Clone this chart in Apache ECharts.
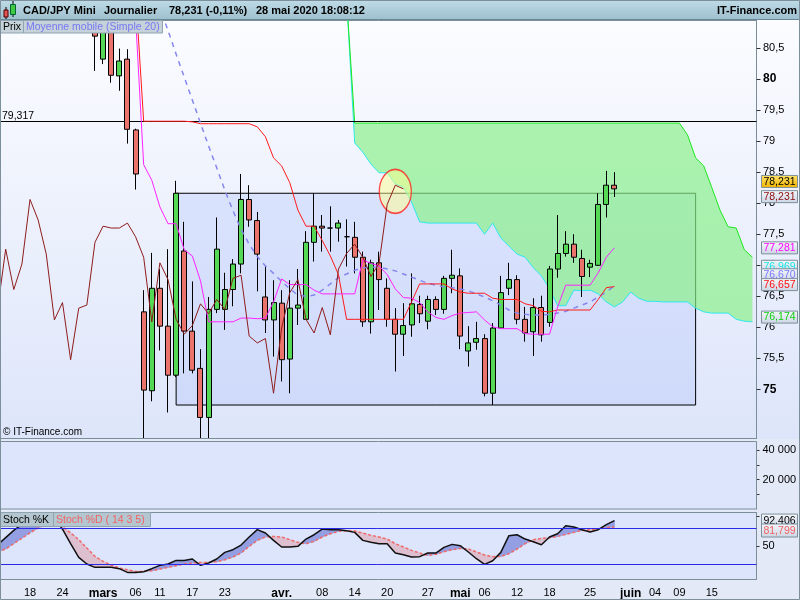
<!DOCTYPE html>
<html><head><meta charset="utf-8">
<script src="https://cdn.jsdelivr.net/npm/echarts@6/dist/echarts.min.js"></script>
<style>html,body{margin:0;padding:0;background:#e3e9f6}#c{width:800px;height:600px}</style>
</head><body><div id="c"></div>
<script>
// ---------- DATA ----------
const dates = ['2020-02-12','2020-02-13','2020-02-14','2020-02-17','2020-02-18','2020-02-19','2020-02-20','2020-02-21','2020-02-24','2020-02-25','2020-02-26','2020-02-27','2020-02-28',
'2020-03-02','2020-03-03','2020-03-04','2020-03-05','2020-03-06','2020-03-09','2020-03-10','2020-03-11','2020-03-12','2020-03-13','2020-03-16','2020-03-17','2020-03-18','2020-03-19','2020-03-20','2020-03-23','2020-03-24','2020-03-25','2020-03-26','2020-03-27','2020-03-30','2020-03-31',
'2020-04-01','2020-04-02','2020-04-03','2020-04-06','2020-04-07','2020-04-08','2020-04-09','2020-04-10','2020-04-13','2020-04-14','2020-04-15','2020-04-16','2020-04-17','2020-04-20','2020-04-21','2020-04-22','2020-04-23','2020-04-24','2020-04-27','2020-04-28','2020-04-29','2020-04-30',
'2020-05-01','2020-05-04','2020-05-05','2020-05-06','2020-05-07','2020-05-08','2020-05-11','2020-05-12','2020-05-13','2020-05-14','2020-05-15','2020-05-18','2020-05-19','2020-05-20','2020-05-21','2020-05-22','2020-05-25','2020-05-26','2020-05-27','2020-05-28','2020-05-29',
'2020-06-01','2020-06-02','2020-06-03','2020-06-04','2020-06-05','2020-06-08','2020-06-09','2020-06-10','2020-06-11','2020-06-12','2020-06-15','2020-06-16','2020-06-17','2020-06-18','2020-06-19','2020-06-22'];

const xTickLabels = [['2020-02-18','18'],['2020-02-24','24'],['2020-03-02','mars'],['2020-03-06','06'],['2020-03-11','11'],['2020-03-17','17'],['2020-03-23','23'],
['2020-04-01','avr.'],['2020-04-08','08'],['2020-04-14','14'],['2020-04-20','20'],['2020-04-27','27'],['2020-05-01','mai'],['2020-05-06','06'],['2020-05-12','12'],
['2020-05-18','18'],['2020-05-25','25'],['2020-06-01','juin'],['2020-06-04','04'],['2020-06-09','09'],['2020-06-15','15']];
const monthNames = ['mars','avr.','mai','juin'];

// date, open, high, low, close
const ohlc = [
['2020-02-28',81.20,81.45,80.13,80.69],['2020-03-02',80.32,81.05,80.24,80.85],['2020-03-03',80.85,81.00,79.94,80.06],['2020-03-04',80.05,80.49,79.81,80.29],
['2020-03-05',80.32,80.48,78.96,79.19],['2020-03-06',79.18,79.20,78.22,78.47],['2020-03-09',76.25,76.60,74.00,74.99],['2020-03-10',74.98,77.20,74.81,76.63],
['2020-03-11',76.63,76.94,75.63,76.02],['2020-03-12',76.02,77.26,74.63,75.23],['2020-03-13',75.23,78.36,75.20,78.16],['2020-03-16',77.23,77.70,75.26,75.94],
['2020-03-17',75.94,76.74,75.26,75.31],['2020-03-18',75.34,75.65,74.10,74.55],['2020-03-19',74.55,76.49,74.15,76.29],['2020-03-20',76.29,77.77,76.23,77.26],
['2020-03-23',76.29,76.88,75.96,76.61],['2020-03-24',76.61,77.10,76.34,77.02],['2020-03-25',77.02,78.47,76.87,78.06],['2020-03-26',78.06,78.29,77.62,77.73],
['2020-03-27',77.72,77.86,76.58,77.18],['2020-03-30',76.49,76.99,75.91,76.12],['2020-03-31',76.12,76.76,75.53,76.40],['2020-04-01',76.39,76.60,75.13,75.48],
['2020-04-02',75.49,76.76,74.94,76.31],['2020-04-03',76.31,76.94,76.04,76.36],['2020-04-06',76.13,77.55,76.13,77.37],['2020-04-07',77.37,78.16,77.06,77.63],
['2020-04-08',77.63,77.81,77.22,77.60],['2020-04-09',77.60,77.95,77.22,77.60],['2020-04-10',77.60,77.73,77.38,77.68],['2020-04-13',77.46,77.74,76.98,77.46],
['2020-04-14',77.45,77.70,76.87,77.13],['2020-04-15',77.13,77.22,76.01,76.09],['2020-04-16',76.09,77.09,75.90,77.04],['2020-04-17',77.04,77.22,76.28,76.77],
['2020-04-20',76.63,76.79,76.01,76.13],['2020-04-21',76.13,76.31,75.29,75.89],['2020-04-22',75.89,76.39,75.54,76.03],['2020-04-23',76.04,76.87,75.85,76.38],
['2020-04-24',76.37,76.51,76.07,76.22],['2020-04-27',76.10,76.51,75.97,76.45],['2020-04-28',76.45,76.50,76.20,76.29],['2020-04-29',76.29,76.83,76.22,76.79],
['2020-04-30',76.79,77.25,76.55,76.84],['2020-05-01',76.83,76.95,75.65,75.86],['2020-05-04',75.62,76.02,75.37,75.75],['2020-05-05',75.76,76.09,75.64,75.82],
['2020-05-06',75.82,75.89,74.89,74.94],['2020-05-07',74.94,76.07,74.75,75.99],['2020-05-08',75.99,76.83,75.99,76.56],['2020-05-11',76.63,77.04,76.52,76.77],
['2020-05-12',76.77,76.84,76.05,76.13],['2020-05-13',76.13,76.33,75.77,75.91],['2020-05-14',75.93,76.47,75.54,76.32],['2020-05-15',76.32,76.51,75.77,75.88],
['2020-05-18',76.08,76.99,76.01,76.94],['2020-05-19',76.94,77.81,76.80,77.19],['2020-05-20',77.19,77.55,77.14,77.34],['2020-05-21',77.34,77.50,77.04,77.13],
['2020-05-22',77.11,77.25,76.49,76.82],['2020-05-25',76.97,77.09,76.81,77.03],['2020-05-26',77.00,78.16,76.99,77.98],['2020-05-27',77.98,78.52,77.77,78.29],
['2020-05-28',78.29,78.50,78.10,78.231]];

const tenkanFrom = '2020-03-06';
const tenkan = [81.0,78.62,78.37,77.94,77.67,77.67,77.25,77.15,76.75,76.09,
76.09,76.09,76.09,76.15,76.15,76.14,76.15,76.41,76.78,76.69,
76.69,76.69,76.6,76.54,76.54,76.54,76.54,76.54,77.09,77.03,
76.99,76.85,76.62,76.48,76.47,76.4,76.25,76.16,76.13,76.19,
76.23,76.24,76.25,76.12,76.01,75.98,75.98,75.98,75.9,75.89,
75.89,75.89,76.33,76.68,76.68,76.68,76.68,76.88,77.13,77.281];

const kijunFrom = '2020-03-06';
const kijun = [81.4,79.32,79.32,79.32,79.32,79.32,79.32,79.31,79.28,79.28,
79.28,79.28,79.28,79.28,79.28,79.23,79.07,78.73,78.6,78.33,
77.89,77.63,77.63,77.4,77.15,76.85,76.13,76.13,76.13,76.13,
76.13,76.13,76.13,76.13,76.41,76.7,76.7,76.7,76.7,76.62,
76.57,76.55,76.55,76.55,76.47,76.45,76.45,76.45,76.38,76.35,
76.26,76.25,76.28,76.28,76.28,76.28,76.28,76.45,76.64,76.657];

const chikouFrom = '2020-02-12';
const chikou = [76.29,77.26,76.61,77.02,78.06,77.73,77.18,76.12,76.4,75.48,
76.31,76.36,77.37,77.63,77.6,77.6,77.68,77.46,77.13,76.09,
77.04,76.77,76.13,75.89,76.03,76.38,76.22,76.45,76.29,76.79,
76.84,75.86,75.75,75.82,74.94,75.99,76.56,76.77,76.13,75.91,
76.32,75.88,76.94,77.19,77.34,77.13,76.82,77.03,77.98,78.29,
78.231];

const smaFrom = '2020-03-10';
const sma20 = [81.5,81.15,80.78,80.4,80.03,79.66,79.29,78.92,78.57,78.21,
77.88,77.58,77.34,77.14,76.99,76.87,76.74,76.62,76.52,76.5,
76.52,76.6,76.7,76.8,76.86,76.92,76.96,76.97,76.97,76.94,
76.91,76.86,76.81,76.76,76.71,76.68,76.65,76.64,76.62,76.59,
76.54,76.49,76.43,76.36,76.28,76.23,76.21,76.2,76.2,76.21,
76.23,76.26,76.31,76.36,76.41,76.49,76.57,76.67];

const cloudFrom = '2020-04-13';
const spanA = [81.3,78.97,78.82,78.63,78.49,78.49,78.31,78.26,78.02,77.7,
77.68,77.68,77.68,77.68,77.68,77.68,77.68,77.5,77.68,77.44,
77.31,77.18,77.13,76.96,76.83,76.62,76.35,76.35,76.6,76.59,
76.6,76.54,76.41,76.33,76.41,76.57,76.47,76.42,76.42,76.41,
76.41,76.41,76.41,76.31,76.25,76.23,76.23,76.23,76.13,76.1,
76.09];
const spanB = [81.3,79.29,79.29,79.29,79.29,79.29,79.29,79.29,79.29,79.29,
79.29,79.29,79.29,79.29,79.29,79.29,79.29,79.29,79.29,79.29,
79.29,79.29,79.29,79.29,79.29,79.29,79.29,79.29,79.29,79.29,
79.29,79.29,79.29,79.29,79.29,79.29,79.29,79.29,79.29,79.29,
79.29,79.29,79.1,78.73,78.6,78.25,77.89,77.62,77.6,77.25,
77.13];

const stochFrom = '2020-02-12';
const stochK = [52,64,76,86,94,98,99,96,78,54,
31,20,14.4,14.4,14.4,12.2,6,6,7.2,12.2,
17.7,20,26,26,28.3,17.7,21.6,28.3,39.4,43.8,
51.6,65,77.2,71.6,59.4,48.3,48.3,49.4,61.6,68.8,
78.3,77.2,77.2,75.5,72.7,59.4,56.1,53.8,53.8,38.3,
35.5,31.6,32.2,38.3,38.3,47.7,52.7,50.5,40,28.8,
19.4,25.5,39.4,67.2,68.8,61.6,57.2,52.2,65,70.5,
83.8,81.6,77.2,73.3,77.2,85.5,92.406];
const stochD = [40,45,54,63,72,80,86,88,82,72,
60.5,46.6,32.7,24.4,18.3,13.3,10.5,7.7,7.7,8.8,
11.6,14.4,17.2,20,21.6,22.7,22.7,23.8,27.2,31.6,
38.3,49.4,59.4,65,66,65,60.5,56,53.8,57.7,
65,70.5,74.4,75.5,75,71.6,67.7,65,61.6,53.8,
48.3,42.7,38.3,34.4,36.1,40.5,43.8,46,45,40,
35,32.2,32.7,37.2,45,53.8,60.5,62.7,63.8,66,
69.4,72.7,76,77.2,78.3,80.5,81.799];
const stochLevels = [80, 20];

const priceTicks = [75,75.5,76,76.5,77,77.5,78,78.5,79,79.5,80,80.5];
const volTicks = [10000,20000,30000,40000];
const volLabels = [20000,40000];

const hLineValue = 79.317;
const rectFrom = '2020-03-13', rectTo = '2020-06-11', rectTop = 78.16, rectBottom = 74.75;
const circleAt = ['2020-04-21', 78.19];

const priceMarks = [78.231, 78.231, 77.281, 76.969, 76.670, 76.657, 76.174];
const stochMarks = [92.406, 81.799];

// ---------- BUILD ----------
const FONT = '"Liberation Sans", Arial, sans-serif';
const N = dates.length;
const idxOf = d => dates.indexOf(d);
function align(from, arr) {
  const out = new Array(N).fill('-');
  const s = idxOf(from);
  arr.forEach((v, k) => { if (s + k < N) out[s + k] = v; });
  return out;
}
const candleData = dates.map(d => {
  const r = ohlc.find(c => c[0] === d);
  return r ? [r[1], r[4], r[3], r[2]] : ['-', '-', '-', '-'];
});
const labelMap = new Map(xTickLabels);
const fmtDec = v => String(v).replace('.', ',');
const fmtThousands = v => String(v).replace(/\B(?=(\d{3})+(?!\d))/g, ' ');

const GL = -6.5, GR = 43.5;
const axisCol = '#7b8d99';
const blank = () => new Array(N).fill('-');

function lineSeries(data, color, extra) {
  return Object.assign({
    type: 'line', data: data, xAxisIndex: 0, yAxisIndex: 0, showSymbol: false, symbol: 'none',
    silent: true, connectNulls: false, lineStyle: { color: color, width: 1 }, z: 6
  }, extra || {});
}

const cloudStart = idxOf(cloudFrom);
const stochStart = idxOf(stochFrom);
const fillUp = '#939fe2', fillDn = '#ddbfd0';

const option = {
  animation: false,
  textStyle: { fontFamily: FONT },
  grid: [
    { left: GL, right: GR, top: 20, height: 418, outerBoundsMode: 'none', containLabel: false },
    { left: GL, right: GR, top: 441.5, height: 67.5, outerBoundsMode: 'none', containLabel: false },
    { left: GL, right: GR, top: 512.7, height: 66.6, outerBoundsMode: 'none', containLabel: false }
  ],
  xAxis: [0, 1, 2].map(g => ({
    type: 'category', data: dates, gridIndex: g, boundaryGap: true,
    axisLine: { show: false }, axisTick: { show: false }, splitLine: { show: false },
    axisLabel: g < 2 ? { show: false } : {
      show: true, margin: 8, color: '#000',
      interval: (i, v) => labelMap.has(v),
      formatter: v => { const t = labelMap.get(v); return monthNames.includes(t) ? '{m|' + t + '}' : '{d|' + t + '}'; },
      rich: {
        m: { fontWeight: 'bold', fontSize: 12, color: '#000', fontFamily: FONT },
        d: { fontSize: 11, color: '#000', fontFamily: FONT }
      }
    }
  })),
  yAxis: [
    { gridIndex: 0, type: 'value', position: 'right', min: 74.219, max: 80.95,
      splitLine: { show: false },
      axisLine: { show: true, lineStyle: { color: axisCol } },
      axisTick: { show: true, length: 4, customValues: priceTicks, lineStyle: { color: '#333' } },
      axisLabel: { customValues: priceTicks, margin: 6.5, fontSize: 11, color: '#000',
        formatter: v => (v % 5 === 0) ? '{b|' + v + '}' : fmtDec(v),
        rich: { b: { fontWeight: 'bold', fontSize: 12, color: '#000', fontFamily: FONT } } } },
    { gridIndex: 1, type: 'value', position: 'right', min: 0, max: 46000,
      splitLine: { show: false },
      axisLine: { show: true, lineStyle: { color: axisCol } },
      axisTick: { show: true, length: 3, customValues: volTicks, lineStyle: { color: '#333' } },
      axisLabel: { customValues: volLabels, margin: 6, fontSize: 11, color: '#000', formatter: v => fmtThousands(v) } },
    { gridIndex: 2, type: 'value', position: 'right', min: -5.5, max: 105.5,
      splitLine: { show: false },
      axisLine: { show: true, lineStyle: { color: axisCol } },
      axisTick: { show: true, length: 3, customValues: [50, 100], lineStyle: { color: '#333' } },
      axisLabel: { customValues: [50], margin: 6, fontSize: 11, color: '#000' } }
  ],
  series: [
    lineSeries(blank(), '#000', { z: 1, lineStyle: { width: 0 },
      markArea: { silent: true,
        itemStyle: { color: 'rgba(165,188,250,0.28)', borderColor: '#000', borderWidth: 1 },
        data: [[{ xAxis: rectFrom, yAxis: rectTop }, { xAxis: rectTo, yAxis: rectBottom }]] } }),
    { type: 'custom', xAxisIndex: 0, yAxisIndex: 0, clip: true, silent: true, z: 2,
      data: [[cloudStart, spanA[0]]],
      renderItem: function (params, api) {
        const pts = [];
        for (let k = 0; k < spanA.length; k++) pts.push(api.coord([cloudStart + k, spanA[k]]));
        for (let k = spanB.length - 1; k >= 0; k--) pts.push(api.coord([cloudStart + k, spanB[k]]));
        return { type: 'polygon', shape: { points: pts }, style: { fill: 'rgba(135,240,135,0.68)' } };
      } },
    lineSeries(align(cloudFrom, spanA), '#2ee8ee', { z: 3 }),
    lineSeries(align(cloudFrom, spanB), '#1ee61e', { z: 3 }),
    { type: 'scatter', xAxisIndex: 0, yAxisIndex: 0, silent: true, z: 4,
      data: [circleAt], symbol: 'circle', symbolSize: [32, 44],
      itemStyle: { color: 'rgba(255,255,140,0.62)', borderColor: '#ff2020', borderWidth: 1.5 } },
    { type: 'candlestick', xAxisIndex: 0, yAxisIndex: 0, data: candleData, barWidth: 5.5, z: 5, silent: true,
      itemStyle: { color: '#55d855', color0: '#ea746c', borderColor: '#000', borderColor0: '#000', borderColorDoji: '#000', borderWidth: 1 } },
    lineSeries(align(smaFrom, sma20), '#8686ee', { lineStyle: { color: '#8686ee', width: 1.5, type: [5, 5] } }),
    lineSeries(align(kijunFrom, kijun), '#ff1a1a'),
    lineSeries(align(tenkanFrom, tenkan), '#ff22ff'),
    lineSeries(align(chikouFrom, chikou), '#8e1c1c'),
    lineSeries(blank(), '#000', { z: 7, lineStyle: { width: 0 },
      markLine: { silent: true, symbol: 'none', label: { show: false },
        lineStyle: { color: '#000', width: 1, type: 'solid' }, data: [{ yAxis: hLineValue }] } }),
    lineSeries(blank(), '#000', { xAxisIndex: 1, yAxisIndex: 1, lineStyle: { width: 0 } }),
    { type: 'custom', xAxisIndex: 2, yAxisIndex: 2, clip: true, silent: true, z: 2,
      data: stochK.slice(0, stochK.length - 1).map((v, k) => [stochStart + k, v]),
      renderItem: function (params, api) {
        const k = params.dataIndex;
        const i0 = stochStart + k, i1 = i0 + 1;
        const K0 = api.coord([i0, stochK[k]]), K1 = api.coord([i1, stochK[k + 1]]);
        const D0 = api.coord([i0, stochD[k]]), D1 = api.coord([i1, stochD[k + 1]]);
        const s0 = stochK[k] - stochD[k], s1 = stochK[k + 1] - stochD[k + 1];
        const col = s => s >= 0 ? fillUp : fillDn;
        const poly = (pts, c) => ({ type: 'polygon', shape: { points: pts }, style: { fill: c, stroke: c, lineWidth: 0.6 } });
        if (s0 * s1 >= 0) return poly([K0, K1, D1, D0], col(s0 !== 0 ? s0 : s1));
        const t = s0 / (s0 - s1);
        const P = [K0[0] + (K1[0] - K0[0]) * t, K0[1] + (K1[1] - K0[1]) * t];
        return { type: 'group', children: [poly([K0, P, D0], col(s0)), poly([P, K1, D1], col(s1))] };
      } },
    lineSeries(align(stochFrom, stochD), '#f06a6a', { xAxisIndex: 2, yAxisIndex: 2, z: 3,
      lineStyle: { color: '#f06a6a', width: 1.5, type: [3, 2] } }),
    lineSeries(align(stochFrom, stochK), '#000', { xAxisIndex: 2, yAxisIndex: 2, z: 4,
      lineStyle: { color: '#111', width: 1.5 },
      markLine: { silent: true, symbol: 'none', label: { show: false },
        lineStyle: { color: '#2a2ae6', width: 1, type: 'solid' },
        data: stochLevels.map(v => ({ yAxis: v })) } })
  ]
};

const chart = echarts.init(document.getElementById('c'), null, { renderer: 'canvas', width: 800, height: 600 });
chart.setOption(option);

// ---------- DECORATIONS ----------
const py = v => chart.convertToPixel({ yAxisIndex: 0 }, v);
const pyS = v => chart.convertToPixel({ yAxisIndex: 2 }, v);
const grad = (a, b) => ({ type: 'linear', x: 0, y: 0, x2: 0, y2: 1, colorStops: [{ offset: 0, color: a }, { offset: 1, color: b }] });
const T = (x, y, s, font, fill, align) => ({ type: 'text', z: 101, silent: true,
  style: { x: x, y: y, text: s, font: font, fill: fill || '#000', align: align || 'left', verticalAlign: 'middle' } });
const R = (x, y, w, h, fill, stroke, z) => ({ type: 'rect', z: z == null ? 100 : z, silent: true,
  shape: { x: x, y: y, width: w, height: h }, style: { fill: fill || 'none', stroke: stroke || 'none', lineWidth: 1 } });

const F11b = 'bold 11px ' + FONT, F105 = '10.5px ' + FONT;
const g = [];
g.push(R(0, 20, 800, 419, grad('#fbfcff', '#dde5fa'), null, -100));
// gap strip + volume panel sit above the candles so long wicks stop at the main panel edge
g.push(R(0, 439, 757, 2.5, '#e3e9f6', null, 8));
g.push(R(0.5, 441.5, 756, 67.5, '#dce5fb', axisCol, 8));
g.push(R(0.5, 512.5, 756, 67, '#dce5fb', axisCol, -90));
g.push(R(0.5, 20.5, 756, 418, null, axisCol, -80));
g.push({ type: 'line', z: 9, silent: true, shape: { x1: 0, y1: 438.5, x2: 757, y2: 438.5 }, style: { stroke: axisCol, lineWidth: 1 } });
g.push(R(0, 0, 800, 20, grad('#bfdce8', '#9dbecc'), null, 90));
g.push({ type: 'line', z: 91, silent: true, shape: { x1: 0, y1: 19.5, x2: 800, y2: 19.5 }, style: { stroke: '#6a8795', lineWidth: 1 } });
g.push({ type: 'line', z: 91, silent: true, shape: { x1: 6, y1: 7, x2: 6, y2: 19 }, style: { stroke: '#000', lineWidth: 1 } });
g.push(R(4, 10, 4, 7, '#e25555', '#500', 92));
g.push({ type: 'line', z: 91, silent: true, shape: { x1: 13, y1: 1, x2: 13, y2: 17 }, style: { stroke: '#000', lineWidth: 1 } });
g.push(R(10.5, 4.5, 5, 10, '#40c840', '#063', 92));
g.push(T(23, 10.5, 'CAD/JPY Mini', F11b));
g.push(T(104, 10.5, 'Journalier', F11b));
g.push(T(169, 10.5, '78,231 (-0,11%)', F11b));
g.push(T(256, 10.5, '28 mai 2020 18:08:12', F11b));
g.push(T(797, 10.5, 'IT-Finance.com', F11b, '#000', 'right'));
g.push(R(0.5, 20.5, 23, 12.5, '#c5d2da', '#8ea4b0'));
g.push(T(3, 27, 'Prix', F105));
g.push(R(23.5, 20.5, 139, 12.5, '#c5d2da', '#8ea4b0'));
g.push(T(26, 27, 'Moyenne mobile (Simple 20)', F105, '#7777f2'));
g.push(R(0.5, 512.5, 53, 14, '#b4c6d0', '#8ea4b0'));
g.push(T(3, 519.7, 'Stoch %K', F105));
g.push(R(53.5, 512.5, 97, 14, '#b4c6d0', '#8ea4b0'));
g.push(T(56, 519.7, 'Stoch %D ( 14 3 5)', F105, '#f26464'));
g.push(T(3, 432.5, '\u00a9 IT-Finance.com', '10px ' + FONT));
g.push(T(2, py(hLineValue) - 5.5, fmtDec(hLineValue), F105));
const boxStyles = [
  { off: -7.4, fg: '#000', bg: grad('#ffe36a', '#f2b400') },
  { off: 7.8, fg: '#8b0d0d' },
  { off: 0, fg: '#ff00ff' },
  { off: -1, fg: '#18e6e6' },
  { off: -11, fg: '#7a7aff' },
  { off: -2, fg: '#ff1010' },
  { off: 0.5, fg: '#12cc12' }
];
const boxBg = grad('#f6f8fc', '#cbd5e4');
priceMarks.forEach((v, k) => {
  const st = boxStyles[k];
  const cy = py(v) + st.off;
  g.push(R(761.5, cy - 6, 36, 12, st.bg || boxBg, '#7d8f9b', 110 + k));
  g.push(Object.assign(T(779.5, cy + 0.5, v.toFixed(3).replace('.', ','), F105, st.fg, 'center'), { z: 110 + k }));
});
const sBox = [{ off: 0, fg: '#000' }, { off: 3.6, fg: '#f06060' }];
stochMarks.forEach((v, k) => {
  const cy = pyS(v) + sBox[k].off;
  g.push(R(761.5, cy - 6.5, 36, 13, boxBg, '#7d8f9b', 120 + k));
  g.push(Object.assign(T(779.5, cy + 0.5, v.toFixed(3).replace('.', ','), F105, sBox[k].fg, 'center'), { z: 120 + k }));
});
g.push(R(0.5, 0.5, 799, 599, null, '#7d8f9b', 200));

chart.setOption({ graphic: { elements: g } });
</script>
</body></html>
